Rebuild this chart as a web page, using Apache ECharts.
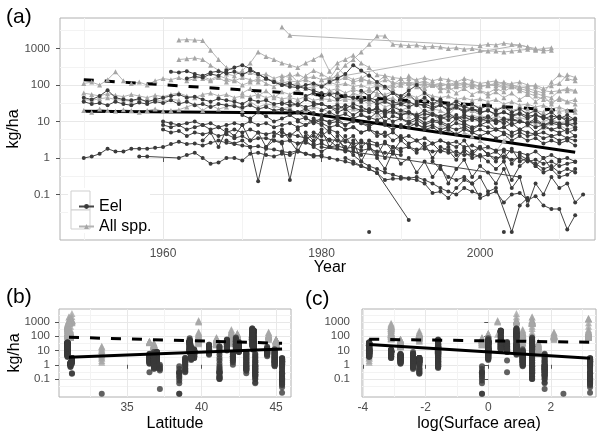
<!DOCTYPE html>
<html><head><meta charset="utf-8">
<script src="https://cdn.jsdelivr.net/npm/echarts@6/dist/echarts.min.js"></script>
<style>html,body{margin:0;padding:0;background:#fff}#c{width:600px;height:434px}</style>
</head><body><div id="c"></div>
<script>
// ===== Panel (a) time series: first entry = first year, then yearly values (kg/ha) =====
const eel01 = [1950, 1.0,1.1,1.3,1.8,1.5,1.5,1.8,1.8,1.8,1.9, 2.0,2.4,2.8,2.4,2.5,2.2,2.6,3.0,2.6,2.4, 2.2,2.0,2.1,1.8,1.7,1.5,1.4,1.6,1.3,1.2, 1.1,1.0,0.9,0.8,0.7,0.6,0.5,0.39,0.25,0.27, 0.27,0.27,0.25,0.2,0.11,0.12,0.08,0.15,0.25,0.2, 0.08,0.1,0.12,0.06,0.1,0.11,0.07,0.09,0.05,0.04, 0.04,0.011,0.027];
const eel02 = [1957, 1.1,1.1,null,null,null,1.0,1.2,1.4,1.0,0.7,0.75,1.0,1.0,0.85,1.3,1.4,1.2,1.1,1.3,1.2,1.5,1.3,1.1,1.2];
const eel03 = [1950, 45,40,50,72,45,40,38,42,35,40, 45,50,55,45,48,40,35,42,38,35, 30,40,35,38,30,32,28,30,25,28, 30,25,22,28,24,20,22,18,20,18, 15,17,14,16,15,12,14,12,13,11, 12,10,11,9,12,10,9,10,8,9, 8,9,7];
const eel04 = [1950, 35,30,32,28,35,30,28,33,30,35, 32,38,30,35,28,30,25,30,28,26, 24,28,22,25,20,22,20,18,22,17, 15,18,14,16,12,15,13,11,14,10, 12,9,11,8,10,9,7,9,8,6, 8,7,6,7,5,6,5,4.5,5,4, 4.5,3.5,4];
const eel05 = [1961, 230,220,240,200,180,220,240,210,230, 190,250,200,150,120,100,110,90,80,70, 60,55,60,50,45,40,45,38,42,35, 30,35,28,30,25,28,22,25,20,22, 18,20,16,18,15,17,14,15,12,14, 13,12,11];
const eel06 = [1963, 150,170,160,200,180,250,300, 350,280,200,150,120,100,90,85,100,110, 90,120,150,200,350,250,180,120,90,60, 50,70,100,60,40,35,30,28,25,22, 20];
const eel07 = [1960, 8,7,8,6,7,8,6,7,5,6, 5,6,5,4.5,5,4,4.5,4,3.5,4, 3,3.2,3,2.8,2.5,2.6,2.4,2.2,2.5,2, 1.8,2,1.7,1.8,1.5,1.6,1.4,1.5,1.2,1.3, 1.1,1.2,1,1.1,0.9,1,0.8,0.9,0.7,0.8, 0.6,0.7,0.78];
const eel08 = [1960, 6,5,5.5,4,5,4.5,5,4,4.5,3.5, 4,3,3.5,3.5,3,2.8,3,2.5,2.6,2.2, 2.5,2,2.2,1.8,2,1.6,1.8,1.5,1.4,1.3, 1.2];
const eel09 = [1960, 10,9,8,9,10,8,9,7,8,9, 8,10,8,9,7,8,9,7,8,10, 12,9,10,8,11,9,8,10,9,8, 7,9,8,7,8,6,7,6,7,5, 6,5,6,5,4,5,4,4.5,3.5,4, 3,3.5,3];
const eel10 = [1983, 1.0,0.8,0.6,0.5,0.39,null,null,null,0.02];
const eel11 = [1994, 0.8,0.5,0.3,0.25,0.3,0.2,0.3,0.12,0.15,null,0.0094,0.05,0.08];
const eel12 = [2003, 0.0094];
const eel13 = [1986, 0.0094];
const eel14 = [1975, 20,15,18,12,10, 8,5,3,2,1.2,0.8,0.6,0.5,0.4,0.35, 0.3,0.28,0.3,0.25,0.2,0.15,0.12,0.1,0.15,0.12, 0.1];
const eel15 = [1977, 10,8,12, 9,7,8,6,7,5,6,5,4,5, 3.5,4,3,3.5,2.5,3,2.5,2.8,2,2.2, 1.8,2,1.6,1.7,1.5,1.4,1.2,1.5,1,1.2, 0.9,1,0.8];
const eel16 = [1975, 30,35,28,40,32, 30,25,28,22,30,25,20,22,18,25, 20,18,15,20,16,14,17,12,15,13, 12,14,10,12,11,10,9,12,8,10, 9,8,9];
const eel17 = [1980, 20,25,18,22,15,20,18,25,16,20, 15,18,14,12,16,13,11,15,10,12, 10,13,9,11,8,10,9,7,8,6, 7,5,6];
const eel18 = [1982, 8,6,7,5,6,4,5,3, 4,2.5,3,2,2.5,1.5,2,1.2,1.5,1, 1.2,0.8,0.5,0.8,0.25,0.6,0.9,0.7,0.5,0.6, 0.4,0.5,0.4];
const eel19 = [1975, 5,4,6,3,5, 4,6,5,3,4, 2,3,2.5,1,2, 1.5];
const eel20 = [1968, 3,2.5,3,2,0.23,2,3,2.5,0.25,2.5,3,2,1.5,2,1.8,1.6,1.5,1.2];
const eel21 = [1985, 15,12,18,10,14, 12,10,13,9,11,10,8,12,9,7, 8,10,6,7,9,6,8,5,7,6, 5,6,4];
const eel22 = [1995, 3,2.5,2,3,1.5, 2,1.2,1.5,1,1.8,0.8,1,0.6,0.4,0.5, 0.3,0.35,0.5];
const eel23 = [1980, 2, null,null,null,null,null,null,null,null,null,null,null,null,null,null,null,null,null,null,null,null,null,null,null,null, 0.3];
const eel24 = [1978, 50,60, 45,55,40,50,45,35,40,30,35,28, 30,25,32,26,22,28,20,24,18,22, 17,20,15,18,14,16,12,15,13,11, 14,10,12];
const eel25 = [1970, 15,12,18,14,10,12,15,11,13,9, 11,10,12,8,10,9,7,10,8,6, 8,7,9,6,7,5,6,4.5,6,5, 4,5,3.5,4.5,3,4,3,3.5,2.5,3, 2.5,3,2.2];
const eel26 = [1985, 70,50,80,45,60, 40,55,35,45,30,40,28,35,25,30, 22,28,20,25,18,22,16,20,14,18, 12,15,11];
const eel27 = [1978, 5,3,6, 2,4,1.5,3,0.8,2,1,0.5,1.5,0.7, 1,0.4,0.8,0.3,0.6,0.2,0.5,0.9,0.3,0.6, 0.4,0.2,0.5,0.15,0.3,0.05,0.2,0.1,0.3,0.15, 0.2,0.06,0.1];
const eel28 = [1965, 3,5,2,6,4, 8,3,5,2,4,6,3,1.5,4,2.5, 5,3,2,4,1.8,3,2.2,1.2,2.8,1.5, 3,2,1.4,2.5,1,2,1.6,0.9,1.8,1.2, 2,1.3,0.8,1.5,0.7,1.2,0.9,0.6,1,0.5, 0.8];

const all01 = [1962, 1700,1750,1700,1650,900,500,300,250, 200,220,180,200,150,180,160,200,150,170, 140,150,130,160,120,140,130,110,140,120, 100,120,110,130,100,90,110,100,120,90, 100,95,110,90,100,85,90,100,80,95, 110,190,160];
const all02 = [1962, 500,520,550,500,350,250,200,180, 250,400,800,600,500,400,350,300,400,500, 660,240,400,500,650,400,300,190,180,160, 150,150,140,160,130,150,140,120,150,130, 110,120,130,100,110,120,100,90,70,65, 70,70,68];
const all03 = [1975, 3900,2300, null,null,null,null,null,null,null,null,null,null,null,null,null,null,null,null,null,null,null,null,null,null,null, 1200,1300,1250,1400,1300,1250,1100,900,1000,1050];
const all04 = [1981, 130,200,350,500,800,1300,2200,2200,1300, 1250,1200,1250,1100,1150,1100,1000,1050,950,1000, 900,850,850,800,850,900,950,950,850,900];
const all05 = [1980, 140, null,null,null,null,null,null,null,null,null,null,null,null,null,null,null,null,null,null,null,null,null,null,null,null, 1250,1100,1000];
const all06 = [1950, 110,120,100,140,230,130,110,120,100,130, 150,140,160,130,150,170,140,180,150,130, 160,140,120,150,130,110,130,120,140,110, 100,120,100,110,90,100,80,95,85,100, 120,110,100,105,100,110,100,95,105,100, 90,100,95,85,90,80,70,60,50,45, 70,80,70];
const all07 = [1950, 60,55,50,58,52,48,55,50,45,52, 48,55,60,50,45,55,60,50,55,45, 50,48,55,45,50,42,45,40,48,38, 42,40,35,42,38,35,40,33,36,30, 35,32,30,28,33,30,28,25,30,27, 24,26,22,25,20,23,22,20,18,21, 19,20,18];
const all08 = [1950, 20,18,22,20,19,21,20,18,20,22, 19,20,21,25,30,20,28,22,25,30, 20,35,25,30,28,22,25,30,20,25, 22,18,25,20,22,18,20,15,18,16, 20,14,17,15,18,13,16,14,12,15, 13,11,14,12,10,13,11,9,10,12, 9,10,8];
const all09 = [1975, 150,200,120,180,250, 200,150,300,180,140,160,120,100,90,80, 100,120,90,80,100,85,70,90,80,100, 70,60,80,65,90,70,60,50,40,35, 40,35,30];
const all10 = [1965, 150,130,160,120,140, 100,120,150,110,90,130,100,110,80,90, 100,70,80,60,75,65,70,60,55,65, 50,55,45,60,50,45,50,40,45,38, 42,35,40,30,35,28,30,25,28,22, 25,20,22];
const all11 = [1985, 40,30,35,25,30, 20,25,30,18,22,20,15,25,18,20, 15,12,18,10,14,12,8,10,7,9, 8,6,7];
const all12 = [1990, 15,20,12,10,18,8,6,10,5,4,3,2,1.5,3,5];
const all13 = [1991, 180,120,110,100,110,100,120,100,110, 90,100,110,120,100,90,80,70,60,120, 190,150,130];
const all14 = [1950, 40,38,42,45,40,38,36,40,35,38,36,40,38];
const all15 = [1985, 150,200,120,180,100, 150,90,120,80,110,70,90,60,80,55, 70,50,65,45,60,40,55,35,50,30, 45,35,40];
const all16 = [1970, 60,80,50,70,45,65,55,75,50,60, 45,70,55,40,60,50,35,55,40,45, 30,50,35,40,28,35,25,40,30,28, 25];

const eelList = [eel01,eel02,eel03,eel04,eel05,eel06,eel07,eel08,eel09,eel10,eel11,eel12,eel13,eel14,eel15,eel16,eel17,eel18,eel19,eel20,eel21,eel22,eel23,eel24,eel25,eel26,eel27,eel28];
const allList = [all01,all02,all03,all04,all05,all06,all07,all08,all09,all10,all11,all12,all13,all14,all15,all16];

// Lake covariates for panels (b) and (c)
const eelLat  = [45.4,31.2,39.2,31.0,43.5,43.4,37.0,36.5,39.5,37.2,38.5,33.3,38.5,41.2,44.9,42.5,40.5,43.0,42.1,31.3,44.4,38.9,36.5,41.7,39.3,42.3,43.6,36.8];
const eelArea = [3.25,-2.4,0.0,-3.8,0.4,0.9,-1.6,-2.8,-3.1,1.8,-0.2,2.4,-0.2,1.4,1.1,0.6,0.9,1.4,1.1,-2.2,-3.8,-2.2,0.6,-1.6,0.0,1.4,1.8,-2.4];
const allLat  = [31.2,31.0,31.3,31.1,39.8,43.4,45.0,36.8,42.0,42.4,39.3,33.3,44.5,36.5,39.8,41.0];
const allArea = [3.2,-3.1,0.9,1.4,0.3,-2.2,-2.8,-1.6,1.1,0.0,1.6,-3.8,2.1,-3.8,0.9,-0.2];

// Fitted trends
const trendYearA = [1950, 2012];       const allTrendA = [140, 19];
const eelTrendYearA = [1950, 1978, 2012]; const eelTrendA = [19, 17, 1.43];
const trendLatB = [31.1, 45.4];        const allTrendB = [85, 32];   const eelTrendB = [3.3, 13];
const trendAreaC = [-3.8, 3.25];       const allTrendC = [62, 38];   const eelTrendC = [26, 2.9];

// Axis ticks
const yTickValues = [0.1, 1, 10, 100, 1000];
const yTickLabels = ['0.1', '1', '10', '100', '1000'];
const yMinorLog = [-1.5, -0.5, 0.5, 1.5, 2.5, 3.5];
const yearTicks = [1960, 1980, 2000];   const yearMinor = [1950, 1970, 1990, 2010];
const latTicks = [35, 40, 45];          const latMinor = [32.5, 37.5, 42.5];
const areaTicks = [-4, -2, 0, 2];       const areaMinor = [-3, -1, 1, 3];

// ===== build =====
const FONT = '"Liberation Sans", Arial, Helvetica, sans-serif';
const EEL_C = '#3a3a3a', EEL_L = '#454545', ALL_C = '#a6a6a6', ALL_L = '#b4b4b4';
const yMajorLog = yTickValues.map(v => Math.round(Math.log10(v)));

function pairs(arr) { const o = []; for (let i = 1; i < arr.length; i++) if (arr[i] != null) o.push([arr[0] + i - 1, arr[i]]); return o; }
function strip(list, xs) { const o = []; list.forEach((s, i) => { for (let j = 1; j < s.length; j++) if (s[j] != null) o.push([xs[i], s[j]]); }); return o; }
function zip(a, b) { return a.map((v, i) => [v, b[i]]); }

function xMajor(g, min, max, vals, margin) {
  return { type: 'value', gridIndex: g, min, max, position: 'bottom', axisLine: { show: false },
    axisTick: { show: true, customValues: vals, length: 4, lineStyle: { color: '#555' } },
    axisLabel: { customValues: vals, margin, color: '#4d4d4d', fontSize: 12, fontFamily: FONT, formatter: v => String(v) },
    splitLine: { show: true, lineStyle: { color: '#e8e8e8', width: 1 } } };
}
function xMinor(g, min, max, vals) {
  return { type: 'value', gridIndex: g, min, max, position: 'bottom', axisLine: { show: false },
    axisTick: { show: false, customValues: vals }, axisLabel: { show: false, customValues: vals },
    splitLine: { show: true, lineStyle: { color: '#f3f3f3', width: 1 } } };
}
function yData(g, lo, hi) { return { type: 'log', logBase: 10, gridIndex: g, min: Math.pow(10, lo), max: Math.pow(10, hi), show: false }; }
function yMajor(g, lo, hi, margin) {
  return { type: 'value', gridIndex: g, min: lo, max: hi, position: 'left', axisLine: { show: false },
    axisTick: { show: true, customValues: yMajorLog, length: 4, lineStyle: { color: '#555' } },
    axisLabel: { customValues: yMajorLog, margin, color: '#4d4d4d', fontSize: 11.5, fontFamily: FONT,
      formatter: v => { const i = yMajorLog.indexOf(Math.round(v)); return i >= 0 ? yTickLabels[i] : ''; } },
    splitLine: { show: true, lineStyle: { color: '#e8e8e8', width: 1 } } };
}
function yMinor(g, lo, hi) {
  return { type: 'value', gridIndex: g, min: lo, max: hi, position: 'left', axisLine: { show: false },
    axisTick: { show: false, customValues: yMinorLog }, axisLabel: { show: false, customValues: yMinorLog },
    splitLine: { show: true, lineStyle: { color: '#f3f3f3', width: 1 } } };
}

const A_LO = -2.247, A_HI = 3.836, B_LO = -2.26, B_HI = 3.91;
const dashed = { color: '#000', width: 3, type: [10, 11], cap: 'butt' };
const solid = { color: '#000', width: 3 };

const series = [];
allList.forEach(s => series.push({ name: 'All spp.', type: 'line', xAxisIndex: 0, yAxisIndex: 0, data: pairs(s),
  symbol: 'triangle', symbolSize: 5, lineStyle: { color: ALL_L, width: 1 }, itemStyle: { color: ALL_C } }));
eelList.forEach(s => series.push({ name: 'Eel', type: 'line', xAxisIndex: 0, yAxisIndex: 0, data: pairs(s),
  symbol: 'circle', symbolSize: 4, lineStyle: { color: EEL_L, width: 1 }, itemStyle: { color: EEL_C } }));
series.push({ type: 'line', xAxisIndex: 0, yAxisIndex: 0, data: zip(trendYearA, allTrendA), symbol: 'none', lineStyle: dashed });
series.push({ type: 'line', xAxisIndex: 0, yAxisIndex: 0, data: zip(eelTrendYearA, eelTrendA), symbol: 'none', lineStyle: solid });

// panel b
series.push({ name: 'All spp.', type: 'scatter', xAxisIndex: 2, yAxisIndex: 3, data: strip(allList, allLat), symbol: 'triangle', symbolSize: 7, itemStyle: { color: ALL_C } });
series.push({ name: 'Eel', type: 'scatter', xAxisIndex: 2, yAxisIndex: 3, data: strip(eelList, eelLat), symbol: 'circle', symbolSize: 6, itemStyle: { color: EEL_C } });
series.push({ type: 'line', xAxisIndex: 2, yAxisIndex: 3, data: zip(trendLatB, allTrendB), symbol: 'none', lineStyle: dashed });
series.push({ type: 'line', xAxisIndex: 2, yAxisIndex: 3, data: zip(trendLatB, eelTrendB), symbol: 'none', lineStyle: solid });
// panel c
series.push({ name: 'All spp.', type: 'scatter', xAxisIndex: 4, yAxisIndex: 6, data: strip(allList, allArea), symbol: 'triangle', symbolSize: 7, itemStyle: { color: ALL_C } });
series.push({ name: 'Eel', type: 'scatter', xAxisIndex: 4, yAxisIndex: 6, data: strip(eelList, eelArea), symbol: 'circle', symbolSize: 6, itemStyle: { color: EEL_C } });
series.push({ type: 'line', xAxisIndex: 4, yAxisIndex: 6, data: zip(trendAreaC, allTrendC), symbol: 'none', lineStyle: dashed });
series.push({ type: 'line', xAxisIndex: 4, yAxisIndex: 6, data: zip(trendAreaC, eelTrendC), symbol: 'none', lineStyle: solid });
series.forEach(s => { s.silent = true; s.animation = false; s.emphasis = { disabled: true }; });

const gridStyle = { show: true, borderColor: '#b0b0b0', borderWidth: 1, backgroundColor: '#fff' };
const option = {
  animation: false,
  textStyle: { fontFamily: FONT },
  grid: [
    Object.assign({ left: 60, top: 18, width: 535, height: 222 }, gridStyle),
    Object.assign({ left: 59, top: 309, width: 232, height: 88 }, gridStyle),
    Object.assign({ left: 362, top: 309, width: 234, height: 88 }, gridStyle)
  ],
  xAxis: [
    xMajor(0, 1947, 2014.5, yearTicks, 8), xMinor(0, 1947, 2014.5, yearMinor),
    xMajor(1, 30.43, 46.0, latTicks, 5), xMinor(1, 30.43, 46.0, latMinor),
    xMajor(2, -4.03, 3.44, areaTicks, 5), xMinor(2, -4.03, 3.44, areaMinor)
  ],
  yAxis: [
    yData(0, A_LO, A_HI), yMajor(0, A_LO, A_HI, 10), yMinor(0, A_LO, A_HI),
    yData(1, B_LO, B_HI), yMajor(1, B_LO, B_HI, 9), yMinor(1, B_LO, B_HI),
    yData(2, B_LO, B_HI), yMajor(2, B_LO, B_HI, 12), yMinor(2, B_LO, B_HI)
  ],
  legend: {
    data: ['Eel', 'All spp.'], selectedMode: false, orient: 'vertical', left: 73, top: 192,
    itemWidth: 15, itemHeight: 6, itemGap: 1,
    textStyle: { fontSize: 16, color: '#000', fontFamily: FONT, lineHeight: 19 }
  },
  graphic: [
    { type: 'rect', z: 1, shape: { x: 68, y: 188, width: 82, height: 45 }, style: { fill: '#fff' } },
    { type: 'rect', z: 1, shape: { x: 71, y: 191, width: 19, height: 19 }, style: { fill: '#fff', stroke: '#cfcfcf', lineWidth: 1 } },
    { type: 'rect', z: 1, shape: { x: 71, y: 210, width: 19, height: 19 }, style: { fill: '#fff', stroke: '#cfcfcf', lineWidth: 1 } },
    { type: 'text', x: 6, y: 17, style: { text: '(a)', fontSize: 21, fontFamily: FONT, fill: '#000', verticalAlign: 'middle' } },
    { type: 'text', x: 6, y: 297, style: { text: '(b)', fontSize: 21, fontFamily: FONT, fill: '#000', verticalAlign: 'middle' } },
    { type: 'text', x: 305, y: 299, style: { text: '(c)', fontSize: 21, fontFamily: FONT, fill: '#000', verticalAlign: 'middle' } },
    { type: 'text', x: 330, y: 268, style: { text: 'Year', fontSize: 16, fontFamily: FONT, fill: '#000', align: 'center', verticalAlign: 'middle' } },
    { type: 'text', x: 175, y: 424, style: { text: 'Latitude', fontSize: 16, fontFamily: FONT, fill: '#000', align: 'center', verticalAlign: 'middle' } },
    { type: 'text', x: 479, y: 424, style: { text: 'log(Surface area)', fontSize: 16, fontFamily: FONT, fill: '#000', align: 'center', verticalAlign: 'middle' } },
    { type: 'text', x: 14, y: 129, rotation: Math.PI / 2, style: { text: 'kg/ha', fontSize: 16, fontFamily: FONT, fill: '#000', align: 'center', verticalAlign: 'middle' } },
    { type: 'text', x: 15, y: 353, rotation: Math.PI / 2, style: { text: 'kg/ha', fontSize: 16, fontFamily: FONT, fill: '#000', align: 'center', verticalAlign: 'middle' } }
  ],
  series
};
const chart = echarts.init(document.getElementById('c'), null, { renderer: 'canvas' });
chart.setOption(option);
</script></body></html>
